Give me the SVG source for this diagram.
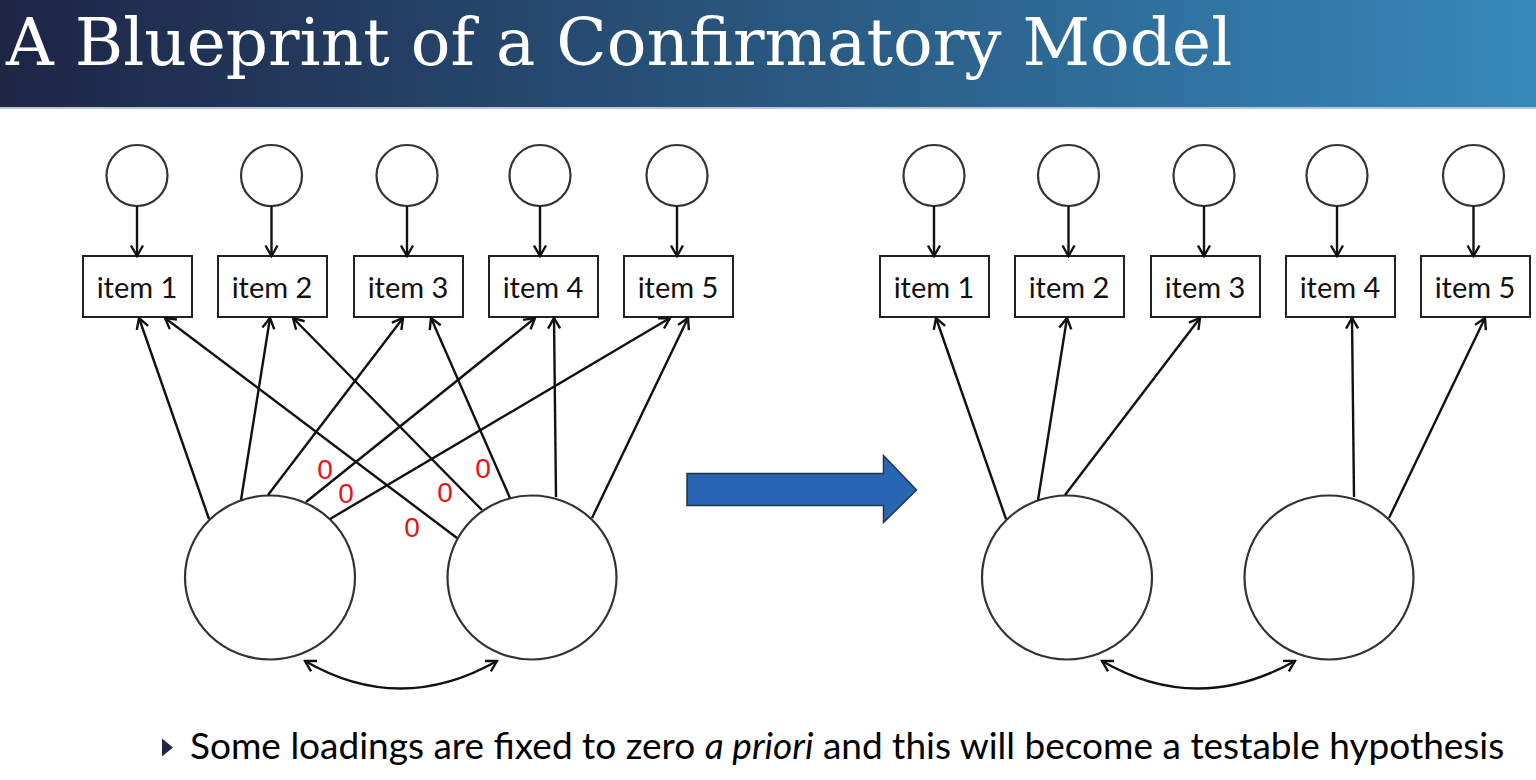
<svg xmlns="http://www.w3.org/2000/svg" width="1536" height="780" viewBox="0 0 1536 780">
  <defs>
    <linearGradient id="titleGrad" x1="0" y1="0" x2="1" y2="0">
      <stop offset="0" stop-color="#1e2545"/>
      <stop offset="0.5" stop-color="#29577f"/>
      <stop offset="1" stop-color="#3689bb"/>
    </linearGradient>
    <marker id="arr" markerUnits="userSpaceOnUse" markerWidth="14" markerHeight="15" viewBox="0 0 14 15" refX="12" refY="7.5" orient="auto-start-reverse">
      <path d="M1.5,1.5 L12,7.5 L1.5,13.5" fill="none" stroke="#111" stroke-width="2.4" stroke-linejoin="miter"/>
    </marker>
    <style>
      .err { fill: #fff; stroke: #333; stroke-width: 2.2; }
      .lat { fill: #fff; stroke: #333; stroke-width: 2.2; }
      .box { fill: #fff; stroke: #222; stroke-width: 2; }
      .lbl { font-family: Lato, "Open Sans", sans-serif; font-size: 29px; fill: #111; text-anchor: middle; }
      .con line, .con path { stroke: #111; stroke-width: 2.4; fill: none; marker-end: url(#arr); }
      .con path.cov { marker-start: url(#arr); }
      .zero { font-family: "Liberation Sans", Arial, sans-serif; font-size: 28px; fill: #e8121a; text-anchor: middle; }
    </style>
  </defs>

  <rect width="1536" height="780" fill="#fff"/>

  <!-- title bar -->
  <g id="title">
    <rect x="0" y="0" width="1536" height="108" fill="url(#titleGrad)"/>
    <rect x="0" y="107" width="1536" height="2" fill="#b9c6d6"/>
    <text x="6" y="65" font-family="'DejaVu Serif', serif" font-size="66" fill="#fff">A Blueprint of a Confirmatory Model</text>
  </g>

  <!-- ===== left model: all cross-loadings ===== -->
  <g id="L-e1"><circle class="err" cx="137" cy="175.5" r="30.5"/></g>
  <g id="L-e2"><circle class="err" cx="271.5" cy="175.5" r="30.5"/></g>
  <g id="L-e3"><circle class="err" cx="407" cy="175.5" r="30.5"/></g>
  <g id="L-e4"><circle class="err" cx="540" cy="175.5" r="30.5"/></g>
  <g id="L-e5"><circle class="err" cx="677" cy="175.5" r="30.5"/></g>

  <g id="L-item1"><rect class="box" x="83" y="256" width="109" height="61"/><text class="lbl" x="137" y="298">item 1</text></g>
  <g id="L-item2"><rect class="box" x="218" y="256" width="109" height="61"/><text class="lbl" x="272" y="298">item 2</text></g>
  <g id="L-item3"><rect class="box" x="354" y="256" width="109" height="61"/><text class="lbl" x="408" y="298">item 3</text></g>
  <g id="L-item4"><rect class="box" x="489" y="256" width="109" height="61"/><text class="lbl" x="543" y="298">item 4</text></g>
  <g id="L-item5"><rect class="box" x="624" y="256" width="109" height="61"/><text class="lbl" x="678" y="298">item 5</text></g>

  <g id="L-factorA"><ellipse class="lat" cx="270" cy="577.5" rx="85" ry="82"/></g>
  <g id="L-factorB"><ellipse class="lat" cx="532" cy="577.5" rx="84.5" ry="82"/></g>

  <!-- ===== right model: simple structure ===== -->
  <g id="R-e1"><circle class="err" cx="934" cy="175.5" r="30.5"/></g>
  <g id="R-e2"><circle class="err" cx="1068.5" cy="175.5" r="30.5"/></g>
  <g id="R-e3"><circle class="err" cx="1204" cy="175.5" r="30.5"/></g>
  <g id="R-e4"><circle class="err" cx="1337" cy="175.5" r="30.5"/></g>
  <g id="R-e5"><circle class="err" cx="1473.5" cy="175.5" r="30.5"/></g>

  <g id="R-item1"><rect class="box" x="880" y="256" width="109" height="61"/><text class="lbl" x="934" y="298">item 1</text></g>
  <g id="R-item2"><rect class="box" x="1015" y="256" width="109" height="61"/><text class="lbl" x="1069" y="298">item 2</text></g>
  <g id="R-item3"><rect class="box" x="1151" y="256" width="109" height="61"/><text class="lbl" x="1205" y="298">item 3</text></g>
  <g id="R-item4"><rect class="box" x="1286" y="256" width="109" height="61"/><text class="lbl" x="1340" y="298">item 4</text></g>
  <g id="R-item5"><rect class="box" x="1421" y="256" width="109" height="61"/><text class="lbl" x="1475" y="298">item 5</text></g>

  <g id="R-factorA"><ellipse class="lat" cx="1067" cy="577.5" rx="85" ry="82"/></g>
  <g id="R-factorB"><ellipse class="lat" cx="1329" cy="577.5" rx="84.5" ry="82"/></g>

  <!-- transition arrow -->
  <g id="transition">
    <path d="M687,473.5 L883.5,473.5 L883.5,455.5 L916.5,490 L883.5,522.5 L883.5,505.5 L687,505.5 Z" fill="#2865b3" stroke="#23344f" stroke-width="1.5" stroke-linejoin="miter"/>
  </g>

  <!-- connectors -->
  <g id="connectors" class="con">
    <!-- left: residual paths -->
    <line x1="137" y1="206" x2="137" y2="256"/>
    <line x1="271.5" y1="206" x2="271.5" y2="256"/>
    <line x1="407" y1="206" x2="407" y2="256"/>
    <line x1="540" y1="206" x2="540" y2="256"/>
    <line x1="677" y1="206" x2="677" y2="256"/>
    <!-- left: loadings of factor A -->
    <line x1="209" y1="519" x2="139" y2="318"/>
    <line x1="241" y1="500" x2="270" y2="318"/>
    <line x1="268" y1="495" x2="403" y2="318"/>
    <line x1="306" y1="502" x2="535" y2="318"/>
    <line x1="330" y1="519" x2="670" y2="318"/>
    <!-- left: loadings of factor B -->
    <line x1="457" y1="538" x2="165" y2="318"/>
    <line x1="482" y1="510" x2="293" y2="318"/>
    <line x1="510" y1="498" x2="431" y2="318"/>
    <line x1="556" y1="497" x2="554" y2="318"/>
    <line x1="592" y1="518" x2="688" y2="318"/>
    <!-- left: factor covariance -->
    <path class="cov" d="M305,661 Q400,716 497,661"/>

    <!-- right: residual paths -->
    <line x1="934" y1="206" x2="934" y2="256"/>
    <line x1="1068.5" y1="206" x2="1068.5" y2="256"/>
    <line x1="1204" y1="206" x2="1204" y2="256"/>
    <line x1="1337" y1="206" x2="1337" y2="256"/>
    <line x1="1473.5" y1="206" x2="1473.5" y2="256"/>
    <!-- right: loadings -->
    <line x1="1006" y1="519" x2="936" y2="318"/>
    <line x1="1038" y1="500" x2="1067" y2="318"/>
    <line x1="1065" y1="495" x2="1200" y2="318"/>
    <line x1="1354" y1="497" x2="1352" y2="318"/>
    <line x1="1389" y1="518" x2="1485" y2="318"/>
    <!-- right: factor covariance -->
    <path class="cov" d="M1102,661 Q1197,716 1295,661"/>
  </g>

  <!-- fixed-to-zero labels -->
  <g id="zeros">
    <text class="zero" x="325" y="479">0</text>
    <text class="zero" x="346" y="503">0</text>
    <text class="zero" x="445" y="502">0</text>
    <text class="zero" x="483" y="478">0</text>
    <text class="zero" x="412" y="537">0</text>
  </g>

  <!-- bullet note -->
  <g id="note">
    <path d="M162,738.5 L173,747.5 L162,756.5 Z" fill="#1f2747"/>
    <text x="190" y="759" font-family="Lato, 'Open Sans', sans-serif" font-size="37" fill="#000">Some loadings are fixed to zero <tspan font-style="italic">a priori</tspan> and this will become a testable hypothesis</text>
  </g>
</svg>
